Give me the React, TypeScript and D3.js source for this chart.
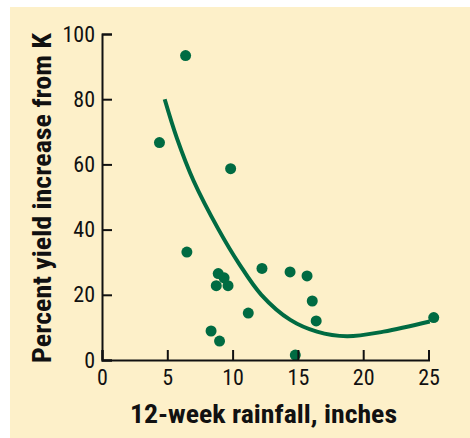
import React, { useEffect, useRef } from 'react'
import * as d3 from 'd3'

// observed points: rainfall (in) vs yield increase (%)
const rainfall = [4.4, 6.4, 6.5, 9.85, 8.9, 9.35, 8.75, 9.65, 11.2, 8.35, 9.0, 12.25, 14.4, 15.7, 16.1, 16.4, 14.8, 25.4]
const yieldIncrease = [66.7, 93.4, 33.1, 58.7, 26.5, 25.2, 22.8, 22.8, 14.4, 8.9, 5.8, 28.1, 27.0, 25.8, 18.1, 12.0, 1.5, 13.0]

// fitted curve
const curveX = [4.8, 5.74, 7.01, 8.93, 10.5, 12.2, 14.42, 16.46, 18.76, 21.56, 25.1]
const curveY = [80, 68, 55, 40, 29.5, 20, 12.3, 8.7, 7.3, 8.7, 11.8]

const xTicks = [0, 5, 10, 15, 20, 25]
const yTicks = [0, 20, 40, 60, 80, 100]

const GREEN = '#006b42'
const BG = '#fdf0c9'
const NARROW = "'Liberation Sans Narrow', 'Arial Narrow', 'Roboto Condensed', 'DejaVu Sans Condensed', sans-serif"

export default function App() {
  const svgRef = useRef<SVGSVGElement>(null)

  useEffect(() => {
    if (!svgRef.current) return
    const width = 470
    const height = 438

    const x = d3.scaleLinear().domain([0, 25]).range([102, 428.5])
    const y = d3.scaleLinear().domain([0, 100]).range([360, 34])

    const svg = d3.select(svgRef.current)
    svg.selectAll('*').remove()
    svg.attr('width', width).attr('height', height)

    svg.append('rect')
      .attr('x', 10).attr('y', 7)
      .attr('width', width - 10).attr('height', height - 7)
      .attr('fill', BG)

    const line = d3
      .line<number>()
      .x((_, i) => x(curveX[i]))
      .y((d) => y(d))
      .curve(d3.curveCatmullRom.alpha(0.5))

    svg.append('path')
      .datum(curveY)
      .attr('d', line)
      .attr('fill', 'none')
      .attr('stroke', GREEN)
      .attr('stroke-width', 4)

    svg.selectAll('.dot')
      .data(rainfall)
      .enter()
      .append('circle')
      .attr('cx', (d) => x(d))
      .attr('cy', (_, i) => y(yieldIncrease[i]))
      .attr('r', 5.5)
      .attr('fill', GREEN)

    const gx = svg.append('g')
      .attr('transform', 'translate(0,360)')
      .call(d3.axisBottom(x).tickValues(xTicks).tickSize(-10).tickPadding(9).tickFormat(d3.format('d')))
    const gy = svg.append('g')
      .attr('transform', 'translate(102,0)')
      .call(d3.axisLeft(y).tickValues(yTicks).tickSize(-10).tickPadding(7).tickFormat(d3.format('d')))

    for (const g of [gx, gy]) {
      g.attr('font-family', NARROW).attr('font-size', 22)
      g.selectAll('path, line').attr('stroke', '#111').attr('stroke-width', 2)
      g.selectAll('text').attr('fill', '#111')
    }

    svg.append('text')
      .attr('x', 263.5).attr('y', 423)
      .attr('text-anchor', 'middle')
      .attr('font-family', NARROW)
      .attr('font-weight', 'bold')
      .attr('font-size', 25)
      .attr('textLength', 267)
      .attr('lengthAdjust', 'spacingAndGlyphs')
      .attr('fill', '#111')
      .text('12-week rainfall, inches')

    svg.append('text')
      .attr('transform', 'translate(51,198) rotate(-90)')
      .attr('text-anchor', 'middle')
      .attr('font-family', NARROW)
      .attr('font-weight', 'bold')
      .attr('font-size', 25)
      .attr('textLength', 330)
      .attr('lengthAdjust', 'spacingAndGlyphs')
      .attr('fill', '#111')
      .text('Percent yield increase from K')
  }, [])

  return <svg ref={svgRef} style={{ display: 'block', position: 'absolute', left: 0, top: 0 }} />
}
